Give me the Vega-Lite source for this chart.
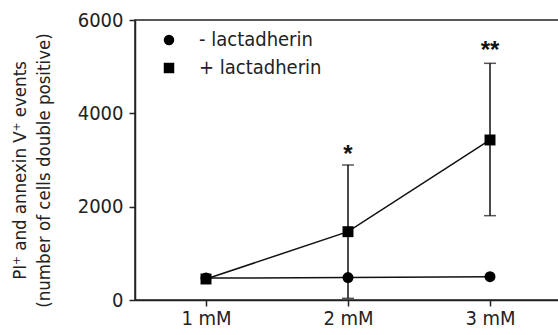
{
  "$schema": "https://vega.github.io/schema/vega-lite/v6.json",
  "autosize": {"type": "none"},
  "width": 426,
  "height": 280,
  "padding": {"left": 135, "top": 20, "right": 0, "bottom": 35},
  "background": "white",
  "config": {
    "font": "DejaVu Sans Condensed, Liberation Sans",
    "view": {"stroke": "#222", "strokeWidth": 1.5},
    "axis": {"grid": false, "domainColor": "#222", "domainWidth": 1.5, "tickColor": "#222", "tickWidth": 1.5, "tickSize": 6, "labelColor": "#222", "labelFontSize": 20, "labelFont": "DejaVu Sans Condensed, Liberation Sans", "titleFont": "DejaVu Sans Condensed, Liberation Sans", "titleColor": "#222", "titleFontWeight": "normal"},
    "legend": {"labelFont": "DejaVu Sans Condensed, Liberation Sans"}
  },
  "data": {
    "values": [
      {"group": "- lactadherin", "dose": 1, "mean": 470, "lo": null, "hi": null, "star": ""},
      {"group": "- lactadherin", "dose": 2, "mean": 480, "lo": null, "hi": null, "star": ""},
      {"group": "- lactadherin", "dose": 3, "mean": 500, "lo": null, "hi": null, "star": ""},
      {"group": "+ lactadherin", "dose": 1, "mean": 450, "lo": null, "hi": null, "star": ""},
      {"group": "+ lactadherin", "dose": 2, "mean": 1464, "lo": 36, "hi": 2893, "star": "*", "stary": 3100},
      {"group": "+ lactadherin", "dose": 3, "mean": 3429, "lo": 1807, "hi": 5072, "star": "**", "stary": 5330}
    ]
  },
  "encoding": {
    "x": {"field": "dose", "type": "quantitative", "scale": {"domain": [0.5, 3.5], "nice": false, "zero": false},
      "axis": {"values": [1, 2, 3], "labelExpr": "datum.value + ' mM'", "title": null, "labelPadding": 2}}
  },
  "layer": [
    {
      "mark": {"type": "rule", "color": "#111", "strokeWidth": 1.5},
      "encoding": {
        "y": {"field": "lo", "type": "quantitative"},
        "y2": {"field": "hi"}
      }
    },
    {
      "mark": {"type": "tick", "color": "#111", "thickness": 1.5, "size": 12, "orient": "horizontal"},
      "encoding": {"y": {"field": "lo", "type": "quantitative"}}
    },
    {
      "mark": {"type": "tick", "color": "#111", "thickness": 1.5, "size": 12, "orient": "horizontal"},
      "encoding": {"y": {"field": "hi", "type": "quantitative"}}
    },
    {
      "mark": {"type": "line", "color": "#111", "strokeWidth": 1.5},
      "encoding": {
        "y": {"field": "mean", "type": "quantitative"},
        "detail": {"field": "group"}
      }
    },
    {
      "mark": {"type": "point", "filled": true, "color": "#000", "opacity": 1, "size": 120},
      "encoding": {
        "y": {"field": "mean", "type": "quantitative",
          "scale": {"domain": [0, 6000], "nice": false},
          "axis": {"values": [0, 2000, 4000, 6000], "format": "d", "labelPadding": 6, "title": ["PI⁺ and annexin V⁺ events", "(number of cells double positive)"], "titleFontSize": 18.5, "titleLineHeight": 24, "titlePadding": 24, "titleY": 150}},
        "shape": {"field": "group", "type": "nominal",
          "scale": {"domain": ["- lactadherin", "+ lactadherin"], "range": ["circle", "square"]},
          "legend": {"title": null, "orient": "none", "legendX": 24, "legendY": 10, "labelFontSize": 20, "labelColor": "#222", "symbolSize": 110, "symbolFillColor": "#000", "symbolStrokeColor": "#000", "symbolType": "circle", "rowPadding": 8, "labelOffset": 20}}
      }
    },
    {
      "mark": {"type": "text", "fontSize": 24, "fontWeight": "bold", "color": "#111", "baseline": "middle", "font": "Liberation Sans"},
      "encoding": {
        "y": {"field": "stary", "type": "quantitative"},
        "text": {"field": "star"}
      }
    }
  ]
}
